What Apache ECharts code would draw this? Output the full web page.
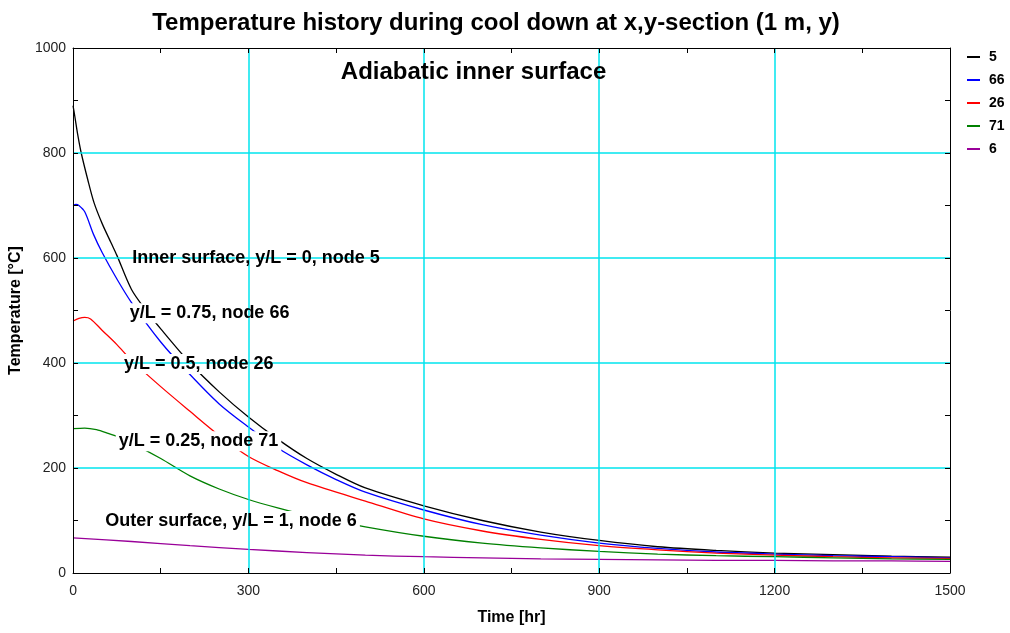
<!DOCTYPE html>
<html>
<head>
<meta charset="utf-8">
<script src="https://cdn.jsdelivr.net/npm/echarts@6/dist/echarts.min.js"></script>
<style>
  html, body { margin: 0; padding: 0; background: #fff; }
  #chart { width: 1010px; height: 633px; }
</style>
</head>
<body>
<div id="chart"></div>
<script>
// values, time [hr] -> temperature [°C]
const node5 = [[0, 890], [3, 870], [8, 835], [14, 800], [25, 750], [36, 705], [50, 665], [65, 629], [75, 605], [100, 540], [125, 500], [150, 465], [200, 400], [250, 345], [300, 297], [350, 255], [400, 218], [450, 188], [500, 162], [600, 128], [700, 100], [800, 78], [900, 62], [1000, 50], [1100, 43], [1200, 38], [1300, 35], [1400, 32], [1500, 30]];
const node66 = [[0, 700], [5, 702], [10, 700], [20, 688], [35, 645], [50, 610], [75, 560], [100, 515], [150, 440], [200, 378], [250, 322], [300, 278], [350, 238], [400, 206], [450, 178], [500, 154], [600, 120], [700, 92], [800, 72], [900, 57], [1000, 47], [1100, 40], [1200, 36], [1300, 33], [1400, 31], [1500, 29]];
const node26 = [[0, 480], [10, 485], [20, 487], [30, 484], [50, 462], [75, 435], [100, 405], [150, 355], [200, 308], [250, 262], [300, 222], [350, 195], [400, 172], [500, 137], [600, 103], [700, 80], [800, 64], [900, 52], [1000, 44], [1100, 38], [1200, 34], [1300, 31], [1400, 29], [1500, 28]];
const node71 = [[0, 275], [20, 276], [40, 273], [60, 266], [80, 258], [100, 248], [150, 218], [200, 185], [250, 160], [300, 140], [350, 124], [400, 110], [500, 88], [600, 70], [700, 57], [800, 48], [900, 41], [1000, 36], [1100, 33], [1200, 31], [1300, 29], [1400, 27], [1500, 26]];
const node6 = [[0, 67], [100, 60], [200, 52], [300, 45], [400, 39], [500, 34], [600, 31], [700, 29], [800, 27], [900, 26], [1000, 25], [1100, 24], [1200, 24], [1300, 23], [1400, 23], [1500, 22]];

const seriesNames = ['5', '66', '26', '71', '6'];
const seriesData = [node5, node66, node26, node71, node6];
const colors = ['#000000', '#0000ff', '#ff0000', '#008000', '#990099'];

// curve notes: [text, time at left edge, temperature at centre]
const notes = [
  ['Inner surface, y/L = 0, node 5', 96, 600],
  ['y/L = 0.75, node 66', 92, 495],
  ['y/L = 0.5, node 26', 82, 398],
  ['y/L = 0.25, node 71', 73, 251],
  ['Outer surface, y/L = 1, node 6', 50, 99]
];

const font = 'Arial, "Liberation Sans", sans-serif';
const gridCyan = '#00e5ee';
const myChart = echarts.init(document.getElementById('chart'));

// frame axis: black line with short inward ticks, drawn above everything
const frameAxis = (extra) => Object.assign({
  type: 'value',
  z: 7,
  axisLine: { show: true, onZero: false, lineStyle: { color: '#000', width: 1 } },
  axisTick: { show: true, inside: true, length: 5, lineStyle: { color: '#000' } },
  splitLine: { show: false },
  axisLabel: { show: false }
}, extra);

// grid-line-only axis, drawn above the note boxes
const gridAxis = (extra) => Object.assign({
  type: 'value',
  z: 4,
  axisLine: { show: false, onZero: false },
  axisTick: { show: false },
  axisLabel: { show: false },
  splitLine: { show: true, showMinLine: false, showMaxLine: false, lineStyle: { color: gridCyan, width: 1.5 } }
}, extra);

const labelStyle = { fontFamily: font, fontSize: 14, color: '#222' };
const nameStyle = { fontFamily: font, fontSize: 16, fontWeight: 'bold', color: '#000' };

myChart.setOption({
  animation: false,
  color: colors,
  title: {
    text: 'Temperature history during cool down at x,y-section (1 m, y)',
    left: 491,
    textAlign: 'center',
    top: 6,
    textStyle: { fontFamily: font, fontSize: 24, fontWeight: 'bold', color: '#000' }
  },
  legend: {
    orient: 'vertical',
    left: 962,
    top: 45,
    itemWidth: 13,
    itemHeight: 2,
    itemGap: 9,
    icon: 'rect',
    data: seriesNames,
    textStyle: { fontFamily: font, fontSize: 14, fontWeight: 'bold', color: '#000', padding: [0, 0, 0, 4] }
  },
  grid: { left: 72, right: 60, top: 48, bottom: 60 },
  xAxis: [
    frameAxis({
      min: 0, max: 1500, interval: 150, position: 'bottom',
      name: 'Time [hr]', nameLocation: 'middle', nameGap: 37,
      nameTextStyle: nameStyle,
      axisLabel: { show: true, margin: 11, formatter: (v) => (v % 300 === 0 ? String(v) : ''), ...labelStyle }
    }),
    frameAxis({ min: 0, max: 1500, interval: 150, position: 'top' }),
    gridAxis({ min: 0, max: 1500, interval: 300, position: 'bottom' })
  ],
  yAxis: [
    frameAxis({
      min: 0, max: 1000, interval: 100, position: 'left',
      name: 'Temperature [°C]', nameLocation: 'middle', nameGap: 44,
      nameTextStyle: nameStyle,
      axisLabel: { show: true, margin: 7, formatter: (v) => (v % 200 === 0 ? String(v) : ''), ...labelStyle }
    }),
    frameAxis({ min: 0, max: 1000, interval: 100, position: 'right' }),
    gridAxis({ min: 0, max: 1000, interval: 200, position: 'left' })
  ],
  series: seriesNames.map((name, i) => ({
    name: name,
    type: 'line',
    xAxisIndex: 0,
    yAxisIndex: 0,
    data: seriesData[i],
    showSymbol: false,
    smooth: 0.3,
    lineStyle: { width: 1.3, color: colors[i] },
    itemStyle: { color: colors[i] },
    z: 2
  }))
});

// notes placed in data coordinates: a white box cuts the curves,
// grid lines pass over the box, the text sits on top
const graphics = [];
notes.forEach((n) => {
  const p = myChart.convertToPixel({ xAxisIndex: 0, yAxisIndex: 0 }, [n[1], n[2]]);
  const base = { text: n[0], font: 'bold 18px ' + font, verticalAlign: 'middle' };
  graphics.push({
    type: 'text', x: p[0], y: p[1], z: 3,
    style: Object.assign({}, base, { fill: 'rgba(0,0,0,0)', backgroundColor: '#fff', padding: [1, 3] })
  });
  graphics.push({
    type: 'text', x: p[0], y: p[1], z: 6,
    style: Object.assign({}, base, { fill: '#000', padding: [1, 3] })
  });
});
const head = myChart.convertToPixel({ xAxisIndex: 0, yAxisIndex: 0 }, [458, 954]);
graphics.push({
  type: 'text',
  x: head[0], y: head[1], z: 6,
  style: { text: 'Adiabatic inner surface', font: 'bold 24px ' + font, fill: '#000', verticalAlign: 'middle' }
});
myChart.setOption({ graphic: graphics });
</script>
</body>
</html>
